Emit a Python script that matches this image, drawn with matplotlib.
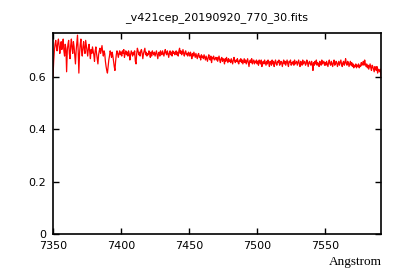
import numpy as np
import matplotlib
matplotlib.use('Agg')
import matplotlib.pyplot as plt

# spectrum, 0.5 Angstrom steps from 7350,
# flux in thousandths
wave_start = 7350
wave_step = 0.5
flux_milli = [
    600, 660, 700, 725, 740, 715, 700, 730, 745, 720, 690, 715, 735, 705, 720, 745, 700, 680, 725, 710,
    620, 700, 725, 740, 690, 670, 720, 745, 710, 690, 735, 715, 680, 650, 700, 730, 760, 700, 615, 690,
    725, 745, 700, 680, 715, 735, 705, 690, 740, 720, 700, 680, 710, 725, 695, 670, 705, 690, 715, 700,
    685, 660, 700, 715, 690, 670, 650, 685, 700, 710, 690, 705, 720, 695, 680, 700, 690, 660, 640, 625,
    615, 640, 665, 680, 700, 690, 675, 695, 680, 660, 640, 625, 660, 685, 700, 690, 675, 690, 700, 685,
    695, 680, 700, 690, 705, 675, 690, 700, 685, 695, 680, 700, 690, 665, 685, 700, 690, 680, 695, 685,
    700, 660, 650, 690, 710, 700, 685, 695, 680, 700, 705, 690, 670, 690, 700, 710, 685, 695, 680, 690,
    685, 700, 690, 675, 695, 680, 700, 690, 685, 695, 680, 690, 700, 685, 670, 690, 695, 680, 700, 690,
    685, 700, 690, 680, 695, 705, 690, 685, 700, 690, 675, 690, 700, 685, 695, 680, 700, 690, 695, 685,
    690, 700, 685, 695, 680, 700, 710, 690, 700, 685, 690, 705, 690, 680, 695, 700, 685, 690, 680, 695,
    690, 680, 695, 685, 670, 690, 680, 695, 685, 675, 690, 680, 670, 685, 690, 675, 680, 665, 685, 675,
    680, 670, 685, 675, 665, 680, 670, 660, 675, 685, 670, 665, 680, 655, 675, 670, 680, 665, 670, 675,
    665, 675, 660, 670, 680, 665, 655, 670, 675, 660, 670, 665, 650, 670, 660, 675, 665, 655, 670, 660,
    665, 655, 670, 660, 650, 665, 675, 660, 655, 665, 660, 670, 655, 650, 665, 660, 670, 655, 665, 650,
    660, 670, 655, 665, 650, 660, 670, 655, 640, 660, 665, 655, 670, 650, 660, 665, 650, 660, 655, 665,
    650, 660, 645, 665, 655, 650, 665, 640, 655, 660, 650, 665, 655, 645, 660, 650, 665, 655, 640, 660,
    655, 645, 665, 650, 660, 640, 655, 665, 650, 645, 660, 655, 665, 645, 650, 660, 655, 640, 655, 665,
    650, 660, 645, 655, 665, 650, 640, 660, 655, 665, 645, 655, 650, 660, 645, 665, 650, 655, 660, 645,
    655, 665, 650, 640, 660, 655, 645, 665, 650, 655, 660, 645, 650, 665, 655, 640, 655, 660, 650, 645,
    660, 650, 625, 655, 645, 660, 650, 665, 645, 655, 650, 640, 660, 655, 645, 665, 650, 655, 660, 645,
    655, 645, 660, 650, 640, 655, 665, 650, 645, 660, 650, 640, 655, 665, 645, 650, 660, 655, 640, 650,
    660, 645, 655, 665, 650, 640, 655, 660, 645, 655, 670, 650, 645, 660, 655, 640, 650, 660, 645, 655,
    640, 650, 635, 645, 640, 650, 635, 645, 640, 650, 635, 645, 640, 655, 645, 650, 660, 645, 665, 650,
    640, 650, 635, 645, 630, 640, 650, 635, 625, 645, 640, 630, 620, 640, 635, 625, 640, 615, 630, 625,
    620, 630, 600,
]
flux = np.array(flux_milli) / 1000.0
wave = wave_start + wave_step * np.arange(len(flux))

x_ticks = [7350, 7400, 7450, 7500, 7550]
y_ticks = [0, 0.2, 0.4, 0.6]
y_labels = ['0', '0.2', '0.4', '0.6']

fig = plt.figure(figsize=(4, 2.8), dpi=100)
ax = fig.add_axes([0.1325, 0.164, 0.82, 0.718])

ax.plot(wave, flux, color='red', linewidth=0.9)

ax.set_xlim(7350, 7591)
ax.set_ylim(0, 0.768)
ax.set_xticks(x_ticks)
ax.set_yticks(y_ticks)
ax.set_yticklabels(y_labels)
ax.tick_params(direction='in', length=4, width=1, top=True, right=True,
               labelsize=8, pad=5)
for s in ax.spines.values():
    s.set_linewidth(1.2)

ax.set_title('_v421cep_20190920_770_30.fits', fontsize=8, pad=9)
fig.text(0.955, 0.065, 'Angstrom', ha='right', va='center',
         family='Liberation Serif', fontsize=9.5)

plt.savefig('out.png', dpi=100)
